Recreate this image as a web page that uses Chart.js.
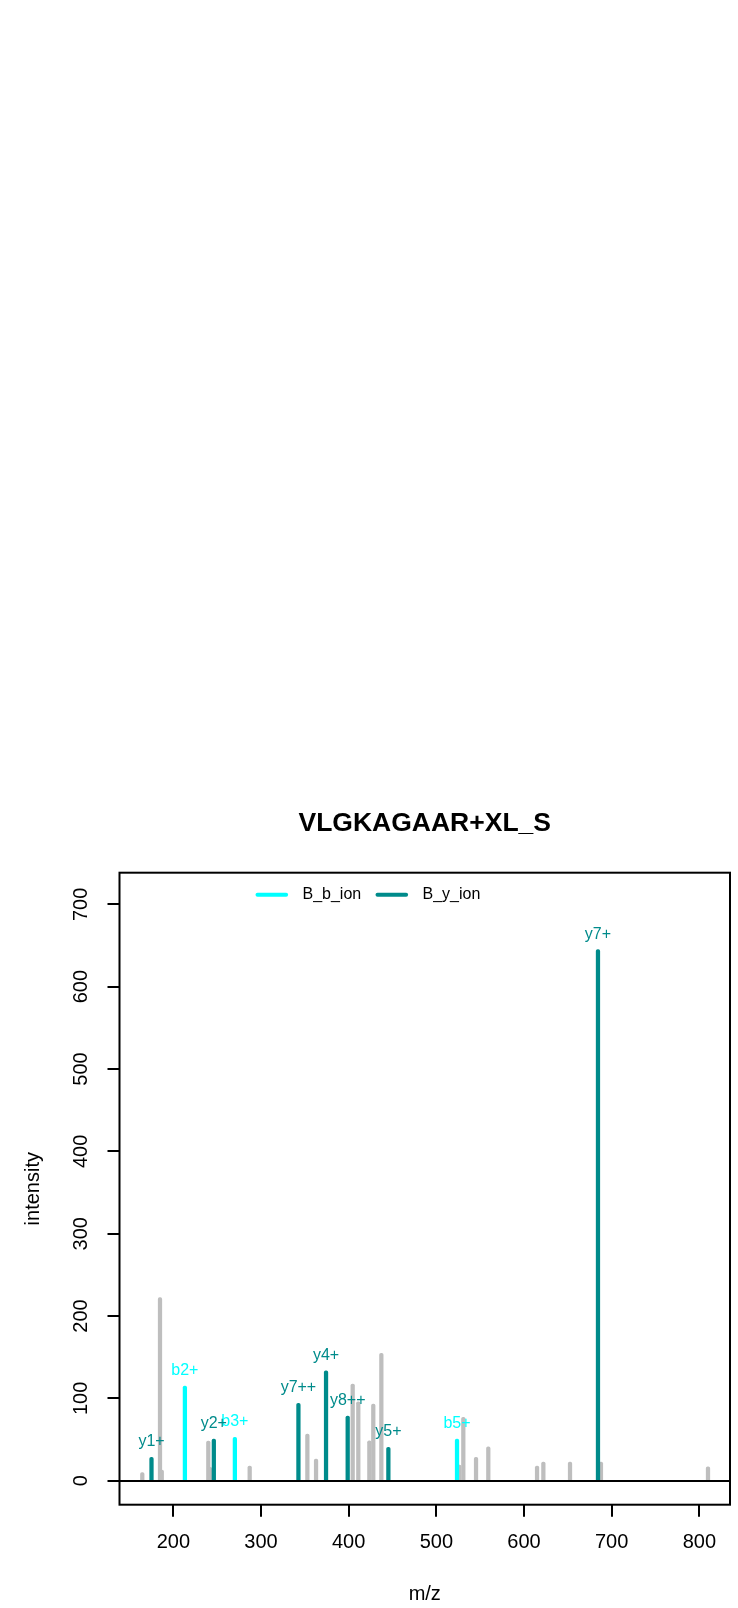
<!DOCTYPE html>
<html>
<head>
<meta charset="utf-8">
<title>VLGKAGAAR+XL_S</title>
<script src="https://cdn.jsdelivr.net/npm/chart.js@4.4.1/dist/chart.umd.min.js"></script>
<style>
  html, body { margin: 0; padding: 0; background: #fff; }
  canvas { display: block; }
</style>
</head>
<body>
<canvas id="spectrumCanvas" width="738" height="1608"></canvas>
<script>
// Matched b ions (m/z, intensity, annotation)
const bIonMz = [213.2, 270.2, 523.6];
const bIonIntensity = [115, 52.7, 50.6];
const bIonLabels = ['b2+', 'b3+', 'b5+'];

// Matched y ions
const yIonMz = [175.1, 246.2, 342.7, 374.2, 398.9, 445.3, 684.4];
const yIonIntensity = [28.4, 50.6, 94, 133.6, 78.6, 40.6, 645];
const yIonLabels = ['y1+', 'y2+', 'y7++', 'y4+', 'y8++', 'y5+', 'y7+'];

// Unmatched peaks of the spectrum
const otherMz = [164.6, 184.8, 186.8, 239.9, 241.9, 287.1, 352.9, 362.8, 404.6, 411.0,
  423.6, 428.1, 437.3, 526.2, 530.8, 545.3, 559.3, 614.9, 622.1, 652.5, 687.8, 809.9];
const otherIntensity = [10, 222.3, 13, 48.2, 16.3, 17.9, 56.7, 26.4, 117.4, 95.9,
  48.6, 93.1, 154.7, 19.1, 77, 28.4, 41.3, 17.9, 22.8, 22.8, 22.8, 17];

// Axis ticks
const xTicks = [200, 300, 400, 500, 600, 700, 800];
const yTicks = [0, 100, 200, 300, 400, 500, 600, 700];

const FONT = '"Liberation Sans", Arial, Helvetica, sans-serif';
Chart.defaults.font.family = FONT;
Chart.defaults.color = '#000';

function toPoints(mz, intensity) {
  return mz.map((x, i) => ({ x: x, y: intensity[i] }));
}

// Draws the ion annotation above every matched peak
const peakLabels = {
  id: 'peakLabels',
  afterDatasetsDraw(chart) {
    const ctx = chart.ctx;
    chart.data.datasets.forEach((ds, i) => {
      if (!ds.peakLabels) return;
      const meta = chart.getDatasetMeta(i);
      ctx.save();
      ctx.font = '16px ' + FONT;
      ctx.fillStyle = ds.backgroundColor;
      ctx.textAlign = 'center';
      ctx.textBaseline = 'middle';
      meta.data.forEach((bar, j) => {
        ctx.fillText(ds.peakLabels[j], bar.x, bar.y - 15.5);
      });
      ctx.restore();
    });
  }
};

// Line legend inside the plot region, plus the frame around it
const ionLegend = {
  id: 'ionLegend',
  afterDraw(chart) {
    const { ctx, chartArea } = chart;
    let x = chartArea.left + 136;
    const y = chartArea.top + 22;
    ctx.save();
    ctx.font = '16px ' + FONT;
    ctx.textBaseline = 'middle';
    ctx.lineWidth = 4;
    ctx.lineCap = 'round';
    chart.data.datasets.filter(ds => ds.peakLabels).forEach(ds => {
      ctx.strokeStyle = ds.backgroundColor;
      ctx.beginPath();
      ctx.moveTo(x + 2, y);
      ctx.lineTo(x + 30.6, y);
      ctx.stroke();
      ctx.fillStyle = '#000';
      ctx.fillText(ds.label, x + 47, y);
      x += 120;
    });
    ctx.lineCap = 'butt';
    ctx.lineWidth = 2;
    ctx.strokeStyle = '#000';
    ctx.strokeRect(chartArea.left, chartArea.top, chartArea.right - chartArea.left, chartArea.bottom - chartArea.top);
    ctx.restore();
  }
};

const ctx = document.getElementById('spectrumCanvas').getContext('2d');
const spectrumChart = new Chart(ctx, {
  type: 'bar',
  data: {
    datasets: [{
      label: 'B_b_ion',
      data: toPoints(bIonMz, bIonIntensity),
      peakLabels: bIonLabels,
      backgroundColor: '#00FFFF',
      order: 1
    }, {
      label: 'B_y_ion',
      data: toPoints(yIonMz, yIonIntensity),
      peakLabels: yIonLabels,
      backgroundColor: '#008B8B',
      order: 1
    }, {
      label: 'peaks',
      data: toPoints(otherMz, otherIntensity),
      backgroundColor: '#BEBEBE',
      order: 2
    }]
  },
  options: {
    responsive: false,
    animation: false,
    grouped: false,
    barThickness: 3.6,
    borderRadius: 1.8,
    layout: { padding: { left: 0, right: 8, top: 0, bottom: 0 } },
    plugins: {
      legend: { display: false },
      tooltip: { enabled: false },
      title: {
        display: true,
        fullSize: false,
        text: 'VLGKAGAAR+XL_S',
        color: '#000',
        font: { size: 26.5, weight: 'bold' },
        padding: { top: 807.4, bottom: 33.5 }
      }
    },
    scales: {
      x: {
        type: 'linear',
        min: 138.6,
        max: 835,
        offset: false,
        afterBuildTicks: scale => { scale.ticks = xTicks.map(v => ({ value: v })); },
        afterFit: scale => { scale.height = 103.3; },
        border: { display: false },
        grid: { drawOnChartArea: false, offset: false, color: '#000', lineWidth: 2, tickLength: 12 },
        ticks: { font: { size: 20 }, color: '#000', padding: 14, minRotation: 0, maxRotation: 0 },
        title: { display: true, text: 'm/z', color: '#000', font: { size: 20 }, padding: { top: 0, bottom: 2 } }
      },
      y: {
        type: 'linear',
        min: -29.1,
        max: 738.4,
        afterBuildTicks: scale => { scale.ticks = yTicks.map(v => ({ value: v })); },
        afterFit: scale => { scale.width = 119.5; },
        border: { display: false },
        grid: {
          color: c => (c.tick && c.tick.value === 0 ? '#000' : 'rgba(0,0,0,0)'),
          tickColor: '#000',
          lineWidth: 2,
          tickLength: 12
        },
        ticks: { font: { size: 20 }, color: '#000', minRotation: 90, maxRotation: 90, crossAlign: 'center', padding: 9 },
        title: { display: true, text: 'intensity', color: '#000', font: { size: 20 }, padding: { top: 21, bottom: 0 } }
      }
    }
  },
  plugins: [peakLabels, ionLegend]
});
</script>
</body>
</html>
